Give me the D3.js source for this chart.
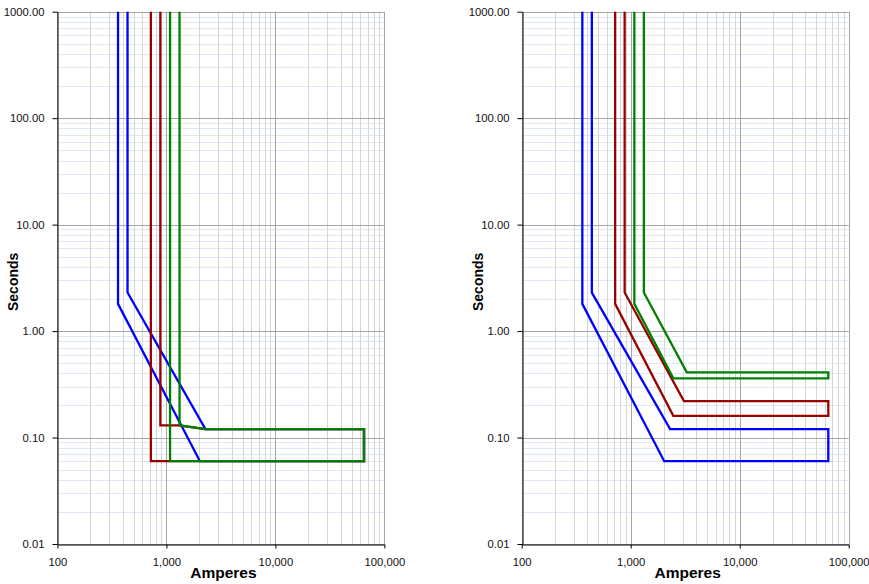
<!DOCTYPE html>
<html>
<head>
<meta charset="utf-8">
<script src="https://cdn.jsdelivr.net/npm/d3@7/dist/d3.min.js"></script>
<style>
  html, body { margin: 0; padding: 0; background: #fff; }
  svg { display: block; font-family: "Liberation Sans", Arial, sans-serif; }
</style>
</head>
<body>
<svg id="chart" width="869" height="584"></svg>
<script>
// Axis ticks (log-log time-current chart)
const xTicks = [100, 1000, 10000, 100000];
const xTickLabels = ["100", "1,000", "10,000", "100,000"];
const yTicks = [1000, 100, 10, 1, 0.1, 0.01];
const yTickLabels = ["1000.00", "100.00", "10.00", "1.00", "0.10", "0.01"];

const xLabel = "Amperes";
const yLabel = "Seconds";

const seriesNames = ["400 A", "800 A", "1200 A"];
const seriesColors = ["#0000ff", "#990000", "#008000"];

// Left chart: tolerance bands [amperes, seconds]
const leftBlue  = [[360, 1000], [360, 1.8], [2030, 0.06], [65000, 0.06], [65000, 0.12], [2280, 0.12], [440, 2.3], [440, 1000]];
const leftRed   = [[720, 1000], [720, 0.06], [65000, 0.06], [65000, 0.12], [2280, 0.12], [1320, 0.13], [880, 0.13], [880, 1000]];
const leftGreen = [[1080, 1000], [1080, 0.06], [65000, 0.06], [65000, 0.12], [2280, 0.12], [1320, 0.13], [1320, 1000]];

// Right chart: tolerance bands [amperes, seconds]
const rightBlue  = [[360, 1000], [360, 1.8], [2030, 0.06], [65000, 0.06], [65000, 0.12], [2300, 0.12], [440, 2.3], [440, 1000]];
const rightRed   = [[720, 1000], [720, 1.8], [2460, 0.16], [65000, 0.16], [65000, 0.22], [3080, 0.22], [880, 2.3], [880, 1000]];
const rightGreen = [[1080, 1000], [1080, 1.8], [2460, 0.36], [65000, 0.36], [65000, 0.41], [3270, 0.41], [1320, 2.3], [1320, 1000]];

const svg = d3.select("#chart");

function minorValues(lo, hi) {
  const out = [];
  for (let d = lo; d < hi; d *= 10) {
    for (let k = 2; k <= 9; k++) out.push(+(d * k).toPrecision(6));
  }
  return out;
}

function drawPanel(id, left, curves) {
  const top = 11.7, bottom = 544, width = 327;
  const x = d3.scaleLog().domain([100, 100000]).range([left, left + width]);
  const y = d3.scaleLog().domain([0.01, 1000]).range([bottom, top]);
  const g = svg.append("g").attr("id", id);

  // minor horizontal grid
  g.append("g").selectAll("line").data(minorValues(0.01, 1000)).join("line")
    .attr("x1", x(100)).attr("x2", x(100000))
    .attr("y1", d => Math.round(y(d)) + 0.5).attr("y2", d => Math.round(y(d)) + 0.5)
    .attr("stroke", "#e0e7f4").attr("stroke-width", 1);

  // minor vertical grid
  g.append("g").selectAll("line").data(minorValues(100, 100000)).join("line")
    .attr("x1", d => Math.round(x(d)) + 0.5).attr("x2", d => Math.round(x(d)) + 0.5)
    .attr("y1", y(1000)).attr("y2", y(0.01))
    .attr("stroke", "#d6d6d6").attr("stroke-width", 1);

  // major grid
  g.append("g").selectAll("line").data(yTicks).join("line")
    .attr("x1", x(100)).attr("x2", x(100000))
    .attr("y1", d => Math.round(y(d)) + 0.5).attr("y2", d => Math.round(y(d)) + 0.5)
    .attr("stroke", "#a6a6a6").attr("stroke-width", 1);
  g.append("g").selectAll("line").data(xTicks).join("line")
    .attr("x1", d => Math.round(x(d)) + 0.5).attr("x2", d => Math.round(x(d)) + 0.5)
    .attr("y1", y(1000)).attr("y2", y(0.01))
    .attr("stroke", "#a6a6a6").attr("stroke-width", 1);

  // curves
  const clipId = id + "-clip";
  g.append("clipPath").attr("id", clipId).append("rect")
    .attr("x", x(100)).attr("y", y(1000) - 1)
    .attr("width", width).attr("height", y(0.01) - y(1000) + 1);
  const line = d3.line().x(d => x(d[0])).y(d => y(d[1]));
  g.append("g").attr("clip-path", `url(#${clipId})`)
    .selectAll("path").data(curves).join("path")
    .attr("d", d => line(d.points))
    .attr("fill", "none")
    .attr("stroke", d => d.color)
    .attr("stroke-width", 2.3)
    .attr("stroke-linejoin", "miter");

  // axes
  const yAxis = d3.axisLeft(y).tickValues(yTicks)
    .tickFormat((d, i) => yTickLabels[i]).tickSizeInner(5).tickSizeOuter(0).tickPadding(8);
  const ya = g.append("g").attr("transform", `translate(${Math.round(x(100)) + 0.5},0)`).call(yAxis);
  const xAxis = d3.axisBottom(x).tickValues(xTicks)
    .tickFormat((d, i) => xTickLabels[i]).tickSizeInner(4).tickSizeOuter(0).tickPadding(9);
  const xa = g.append("g").attr("transform", `translate(0,${Math.round(y(0.01)) + 0.5})`).call(xAxis);
  [ya, xa].forEach(a => {
    a.select(".domain").attr("stroke", "#000");
    a.selectAll(".tick line").attr("stroke", "#000");
    a.selectAll(".tick text").attr("fill", "#111").style("font-size", "11.3px")
      .style("font-family", "'Liberation Sans', Arial, sans-serif");
  });

  g.append("text")
    .attr("x", (x(100) + x(100000)) / 2 + 2.5).attr("y", 577.5)
    .attr("text-anchor", "middle").style("font-size", "15.5px").style("font-weight", "bold")
    .text(xLabel);
  g.append("text")
    .attr("transform", `translate(${left - 39},${(top + bottom) / 2 + 4}) rotate(-90)`)
    .attr("text-anchor", "middle").style("font-size", "14px").style("font-weight", "bold")
    .text(yLabel);
}

drawPanel("left-chart", 57.4, [
  { name: seriesNames[0], color: seriesColors[0], points: leftBlue },
  { name: seriesNames[1], color: seriesColors[1], points: leftRed },
  { name: seriesNames[2], color: seriesColors[2], points: leftGreen }
]);
drawPanel("right-chart", 521.7, [
  { name: seriesNames[0], color: seriesColors[0], points: rightBlue },
  { name: seriesNames[1], color: seriesColors[1], points: rightRed },
  { name: seriesNames[2], color: seriesColors[2], points: rightGreen }
]);
</script>
</body>
</html>
